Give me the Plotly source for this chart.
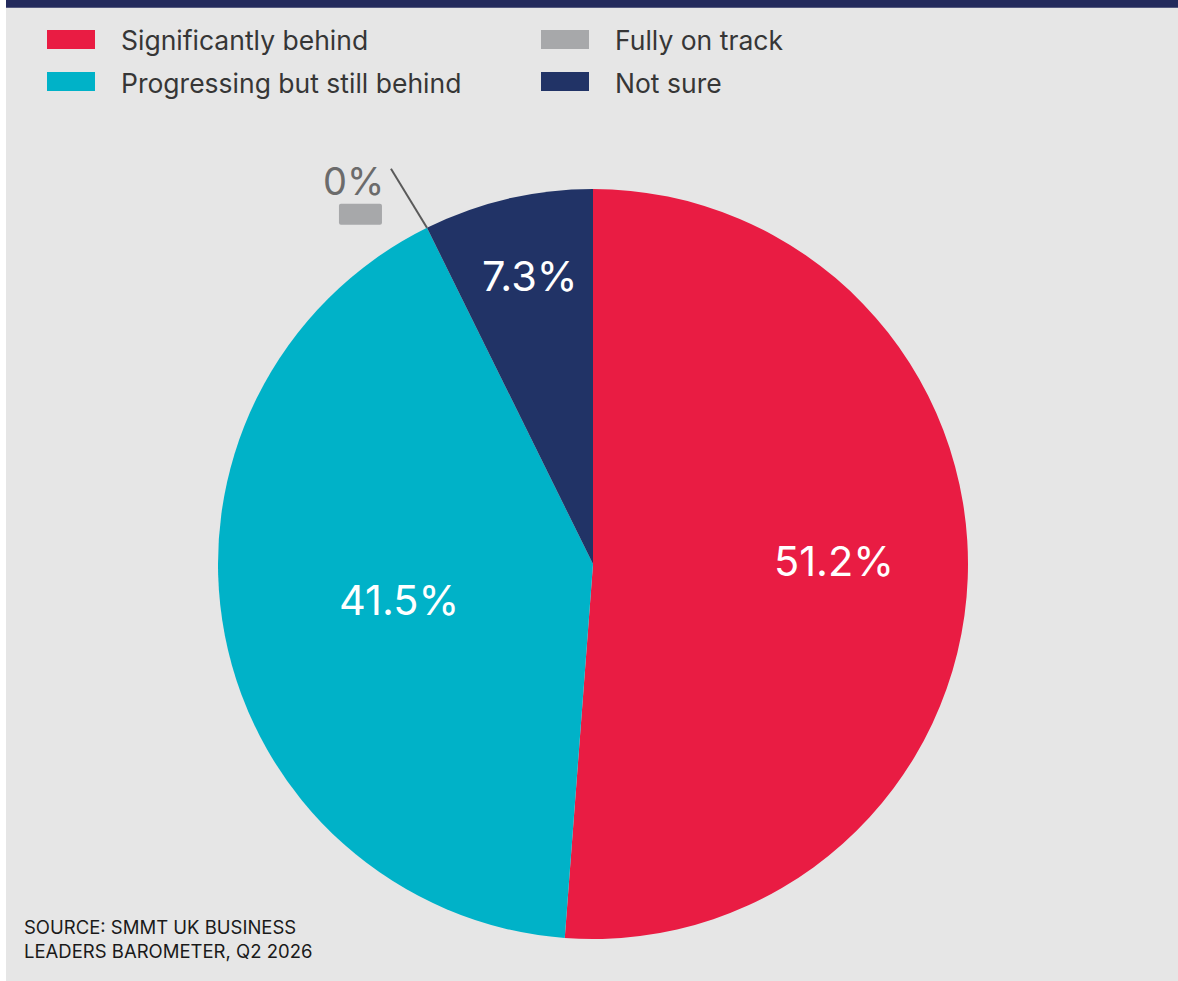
import math
import plotly.graph_objects as go

# Survey responses
categories = ["Significantly behind", "Progressing but still behind", "Fully on track", "Not sure"]
shares = [51.2, 41.5, 0.0, 7.3]
colors = ["#E91C43", "#00B2C8", "#A7A8AA", "#213366"]
source_lines = ["SOURCE: SMMT UK BUSINESS", "LEADERS BAROMETER, Q2 2026"]

W, H = 1178, 981
FONT = "Inter"


def px(x):
    return x / W


def py(y):
    return 1 - y / H


# pie geometry in pixels
CX, CY, R = 593, 564, 375

# value-label placement inside each slice: (radius fraction, angular nudge in degrees)
label_place = [(0.644, -3.6), (0.525, 1.3), None, (0.794, 0.9)]

fig = go.Figure()
fig.add_trace(go.Pie(
    labels=categories,
    values=shares,
    marker=dict(colors=colors, line=dict(width=0)),
    sort=False,
    direction="clockwise",
    rotation=0,
    textinfo="none",
    showlegend=False,
    hoverinfo="label+value",
    domain=dict(x=[px(CX - R), px(CX + R)], y=[py(CY + R), py(CY - R)]),
))

shapes = [
    # panel background and top rule
    dict(type="rect", xref="paper", yref="paper", x0=px(6), x1=1, y0=0, y1=1,
         fillcolor="#E6E6E6", line=dict(width=0), layer="below"),
    dict(type="rect", xref="paper", yref="paper", x0=px(6), x1=1, y0=py(7.7), y1=1,
         fillcolor="#232A5C", line=dict(width=0), layer="below"),
]
annotations = []

# two-column legend
legend_pos = [(47, 39.5), (47, 81.5), (541, 39.5), (541, 81.5)]
for (lx, ly), name, col in zip(legend_pos, categories, colors):
    shapes.append(dict(type="rect", xref="paper", yref="paper",
                       x0=px(lx), x1=px(lx + 48), y0=py(ly + 9.5), y1=py(ly - 9.5),
                       fillcolor=col, line=dict(width=0)))
    annotations.append(dict(xref="paper", yref="paper", x=px(lx + 72), y=py(ly + 1),
                            xanchor="left", yanchor="middle", showarrow=False,
                            text=name, font=dict(family=FONT, size=26.5, color="#363636")))

# value labels, placed along each slice's mid-angle
total = sum(shares)
cum = 0.0
for val, place in zip(shares, label_place):
    mid = 360 * (cum + val / 2) / total
    cum += val
    if place is None:
        continue
    rf, nudge = place
    ang = math.radians(mid + nudge)
    lx = CX + rf * R * math.sin(ang)
    ly = CY - rf * R * math.cos(ang)
    annotations.append(dict(xref="paper", yref="paper", x=px(lx), y=py(ly + 3),
                            xanchor="center", yanchor="middle", showarrow=False,
                            text=f"{val:g}%",
                            font=dict(family=FONT, size=41.5, color="white")))

# call-out for the zero-share slice, anchored at its edge on the circle
zero_idx = shares.index(0.0)
frac = sum(shares[:zero_idx]) / total
theta = 2 * math.pi * frac
ex = CX + R * math.sin(theta)
ey = CY - R * math.cos(theta)
shapes.append(dict(type="line", xref="paper", yref="paper",
                   x0=px(ex), y0=py(ey), x1=px(ex - 36), y1=py(ey - 59),
                   line=dict(color="#5A5A5A", width=2)))
bx0, bx1, by0, by1, rr = ex - 88, ex - 45, ey - 24, ey - 3, 2
shapes.append(dict(type="path", xref="paper", yref="paper",
                   path=(f"M {px(bx0 + rr)},{py(by0)} L {px(bx1 - rr)},{py(by0)} "
                         f"Q {px(bx1)},{py(by0)} {px(bx1)},{py(by0 + rr)} "
                         f"L {px(bx1)},{py(by1 - rr)} Q {px(bx1)},{py(by1)} {px(bx1 - rr)},{py(by1)} "
                         f"L {px(bx0 + rr)},{py(by1)} Q {px(bx0)},{py(by1)} {px(bx0)},{py(by1 - rr)} "
                         f"L {px(bx0)},{py(by0 + rr)} Q {px(bx0)},{py(by0)} {px(bx0 + rr)},{py(by0)} Z"),
                   fillcolor=colors[zero_idx], line=dict(width=0)))
annotations.append(dict(xref="paper", yref="paper", x=px(ex - 73), y=py(ey - 47),
                        xanchor="center", yanchor="middle", showarrow=False,
                        text=f"{shares[zero_idx]:g}%",
                        font=dict(family=FONT, size=38, color="#6B6B6B")))

# source note
annotations.append(dict(xref="paper", yref="paper", x=px(22), y=py(939),
                        xanchor="left", yanchor="middle", showarrow=False, align="left",
                        text="<br>".join(source_lines),
                        font=dict(family=FONT, size=18.5, color="#1A1A1A")))

fig.update_layout(
    width=W, height=H,
    margin=dict(l=0, r=0, t=0, b=0),
    paper_bgcolor="white",
    plot_bgcolor="rgba(0,0,0,0)",
    shapes=shapes,
    annotations=annotations,
)

fig.write_html("out.html")
